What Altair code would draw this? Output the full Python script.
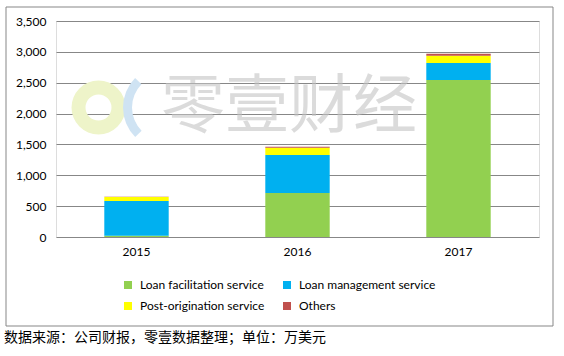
import altair as alt
import pandas as pd

years = ["2015", "2016", "2017"]
series = ["Loan facilitation service", "Loan management service",
          "Post-origination service", "Others"]
colors = ["#92D050", "#00B0F0", "#FFFF00", "#C0504D"]
loan_facilitation = [20, 713, 2545]
loan_management = [565, 616, 275]
post_origination = [65, 118, 115]
others = [3, 17, 35]
y_ticks = [0, 500, 1000, 1500, 2000, 2500, 3000, 3500]
caption = "数据来源：公司财报，零壹数据整理；单位：万美元"
watermark = "零壹财经"

rows = []
for s_i, (name, vals) in enumerate(zip(series, [loan_facilitation, loan_management,
                                                 post_origination, others])):
    for y, v in zip(years, vals):
        rows.append({"year": y, "series": name, "value": v, "idx": s_i})
df = pd.DataFrame(rows)
one = pd.DataFrame({"a": [0]})

FONT = "Lato"
GRID = "#878787"

border = alt.Chart(one).mark_rect(fillOpacity=0, stroke=GRID, strokeWidth=1).encode(
    x=alt.value(-50), x2=alt.value(497), y=alt.value(-14), y2=alt.value(305))

ring = alt.Chart(one).mark_arc(innerRadius=13, outerRadius=27, theta=0, theta2=6.2832,
                               color="#eef4c9").encode(x=alt.value(42.5), y=alt.value(86.5))
crescent = alt.Chart(one).mark_arc(innerRadius=33, outerRadius=42, theta=3.93, theta2=5.49,
                                   color="#cfe3f3").encode(x=alt.value(109), y=alt.value(86.5))
wm = alt.Chart(one).mark_text(text=watermark, font="Noto Sans CJK SC", fontSize=64,
                              color="#c4c4c4", opacity=0.6,
                              align="left", baseline="middle").encode(
    x=alt.value(105), y=alt.value(87))

bars = alt.Chart(df).mark_bar().encode(
    x=alt.X("year:N", sort=years,
            scale=alt.Scale(paddingInner=0.6, paddingOuter=0.3),
            axis=alt.Axis(title=None, labelAngle=0, ticks=False, domain=False,
                          labelPadding=9, labelFont=FONT, labelFontSize=12,
                          labelColor="#000000")),
    y=alt.Y("value:Q", stack="zero",
            scale=alt.Scale(domain=[0, 3500], nice=False),
            axis=alt.Axis(title=None, values=y_ticks, format=",d", ticks=False,
                          domain=False, grid=True, gridColor=GRID, gridWidth=1,
                          labelPadding=10, labelFont=FONT, labelFontSize=12,
                          labelColor="#000000")),
    color=alt.Color("series:N", sort=series,
                    scale=alt.Scale(domain=series, range=colors),
                    legend=alt.Legend(title=None, orient="none", legendX=66, legendY=258,
                                      direction="horizontal",
                                      columns=2, symbolType="square", symbolSize=64,
                                      symbolStrokeWidth=0, labelFont=FONT, labelFontSize=12,
                                      labelColor="#000000", columnPadding=16,
                                      rowPadding=9, labelOffset=6)),
    order=alt.Order("idx:Q", sort="ascending"),
)

cap = alt.Chart(one).mark_text(text=caption, font="Noto Sans CJK SC", fontSize=14,
                               color="#000000", align="left", baseline="middle").encode(
    x=alt.value(-52), y=alt.value(317))

chart = alt.layer(border, ring, crescent, wm, bars, cap).properties(
    width=483, height=216,
    autosize=alt.AutoSizeParams(type="none"),
    padding={"left": 56, "top": 21, "right": 25, "bottom": 119},
).configure_view(stroke=None).configure(background="white")

chart.save("out.html", embed_options={"renderer": "svg", "actions": False})
